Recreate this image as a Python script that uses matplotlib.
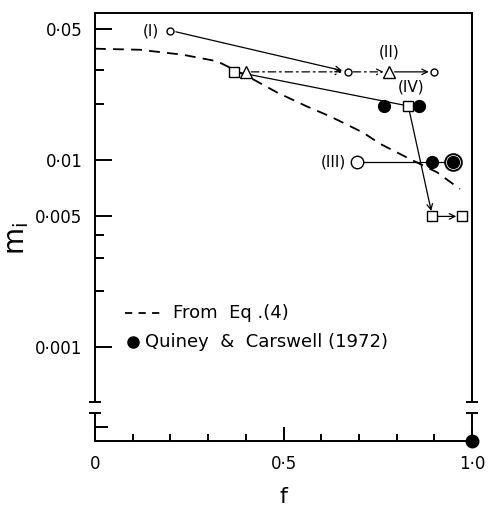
import matplotlib.pyplot as plt
from matplotlib.lines import Line2D

# dashed curve "From Eq.(4)"
f_eq = [0.0, 0.119, 0.233, 0.324, 0.366, 0.411, 0.483, 0.562, 0.623, 0.658,
        0.711, 0.756, 0.836, 0.907, 0.968]
m_eq = [0.0392, 0.0387, 0.0364, 0.0336, 0.0305, 0.0275, 0.0229, 0.0193, 0.0171,
        0.0158, 0.0140, 0.0122, 0.0101, 0.0086, 0.0070]

# run (I): open circles
f_run1 = [0.20, 0.67]
m_run1 = [0.049, 0.0295]

# run (II): triangle -> circle -> triangle -> circle
f_run2 = [0.40, 0.67, 0.78, 0.90]
m_run2 = [0.0295, 0.0295, 0.0295, 0.0295]

# run (III): open circle -> filled -> ringed
f_run3 = [0.694, 0.893, 0.950]
m_run3 = [0.0098, 0.0098, 0.0098]

# run (IV): squares
f_run4 = [0.37, 0.831, 0.895, 0.973]
m_run4 = [0.0296, 0.0194, 0.0050, 0.0050]

# Quiney & Carswell (1972)
f_qc = [0.767, 0.860, 0.893, 0.950]
m_qc = [0.0194, 0.0194, 0.0098, 0.0098]
f_qc_zero = [1.0]
m_qc_zero = [0.0]

y_major = [0.05, 0.01, 0.005, 0.001]
y_major_labels = ['0·05', '0·01', '0·005', '0·001']
y_minor = [0.03, 0.02, 0.004, 0.003, 0.002]
x_major = [0.0, 0.5, 1.0]
x_major_labels = ['0', '0·5', '1·0']
x_minor = [0.1, 0.2, 0.3, 0.4, 0.6, 0.7, 0.8, 0.9]

W, H = 488, 516
left, right = 95 / W, 472 / W
top_ax = [left, 1 - 402 / H, right - left, (402 - 12.7) / H]
bot_ax = [left, 1 - 441 / H, right - left, (441 - 413) / H]

fig = plt.figure(figsize=(W / 100, H / 100), dpi=100)
ax = fig.add_axes(top_ax)
axb = fig.add_axes(bot_ax, sharex=ax)

lw_spine = 1.4
for a in (ax, axb):
    for s in a.spines.values():
        s.set_linewidth(lw_spine)
ax.spines['bottom'].set_visible(False)
axb.spines['top'].set_visible(False)

ax.set_yscale('log')
ax.set_ylim(0.000512, 0.061)
ax.set_xlim(0, 1.0)
axb.set_ylim(0, 1)

ax.set_yticks(y_major)
ax.set_yticklabels(y_major_labels)
ax.set_yticks(y_minor, minor=True)
ax.yaxis.set_minor_formatter(plt.NullFormatter())
ax.tick_params(axis='y', which='major', direction='in', length=12, width=1.4,
               labelsize=12, pad=9, right=False)
ax.tick_params(axis='y', which='minor', direction='in', length=6.5, width=1.4, right=False)
ax.tick_params(axis='x', which='both', bottom=False, top=False, labelbottom=False)

axb.set_xticks(x_major)
axb.set_xticklabels(x_major_labels)
axb.set_xticks(x_minor, minor=True)
axb.tick_params(axis='x', which='major', direction='in', length=10, width=1.4,
                labelsize=12, pad=10, top=False)
axb.tick_params(axis='x', which='minor', direction='in', length=5, width=1.4, top=False)
axb.set_yticks([0.5])
axb.set_yticklabels([])
axb.tick_params(axis='y', direction='in', length=9, width=1.4, right=False)

# axis break marks
ax.plot([0, 1], [0, 0], transform=ax.transAxes, ls='none', marker='_',
        ms=9, mew=1.4, color='k', clip_on=False)
axb.plot([0, 1], [1, 1], transform=axb.transAxes, ls='none', marker='_',
         ms=8, mew=1.4, color='k', clip_on=False)

# Eq.(4) curve
ax.plot(f_eq, m_eq, color='k', lw=1.3, dashes=(6, 4))

arrow = dict(arrowstyle='->', color='k', lw=0.9, shrinkA=4, shrinkB=4,
             mutation_scale=10)


def connect(a, p0, p1, style='-', head=True):
    props = dict(arrow)
    props['linestyle'] = style
    if not head:
        props['arrowstyle'] = '-'
    a.annotate('', xy=p1, xytext=p0, arrowprops=props)


# run (I)
connect(ax, (f_run1[0], m_run1[0]), (f_run1[1], m_run1[1]))
ax.plot(f_run1, m_run1, 'o', ms=5, mfc='white', mec='k', mew=1.0, zorder=4)

# run (II)
connect(ax, (f_run2[0], m_run2[0]), (f_run2[1], m_run2[1]), style=(0, (6, 3, 1.5, 3)))
connect(ax, (f_run2[1], m_run2[1]), (f_run2[2], m_run2[2]), style=(0, (6, 3, 1.5, 3)))
connect(ax, (f_run2[2], m_run2[2]), (f_run2[3], m_run2[3]))
ax.plot([f_run2[0], f_run2[2]], [m_run2[0], m_run2[2]], '^', ms=9,
        mfc='white', mec='k', mew=1.0, zorder=5)
ax.plot(f_run2[3:], m_run2[3:], 'o', ms=5, mfc='white', mec='k', mew=1.0, zorder=4)

# run (IV)
connect(ax, (f_run4[0], m_run4[0]), (f_run4[1], m_run4[1]), head=False)
connect(ax, (f_run4[1], m_run4[1]), (f_run4[2], m_run4[2]))
connect(ax, (f_run4[2], m_run4[2]), (f_run4[3], m_run4[3]))
ax.plot(f_run4, m_run4, 's', ms=7, mfc='white', mec='k', mew=1.0, zorder=4)

# run (III)
ax.plot(f_run3, m_run3, '-', color='k', lw=0.9)
ax.plot(f_run3[0], m_run3[0], 'o', ms=9, mfc='white', mec='k', mew=1.0, zorder=4)
ax.plot(f_run3[2], m_run3[2], 'o', ms=12, mfc='white', mec='k', mew=1.4, zorder=4)

# Quiney & Carswell points
ax.plot(f_qc, m_qc, 'o', ms=8.5, color='k', zorder=6)
axb.plot(f_qc_zero, m_qc_zero, 'o', ms=9, color='k', clip_on=False, zorder=6)

# run labels
lab = dict(fontsize=11, textcoords='offset points')
ax.annotate('(I)', (f_run1[0], m_run1[0]), xytext=(-8, 0), ha='right', va='center', **lab)
ax.annotate('(II)', (f_run2[2], m_run2[2]), xytext=(0, 9), ha='center', va='bottom', **lab)
ax.annotate('(III)', (f_run3[0], m_run3[0]), xytext=(-8, 0), ha='right', va='center', **lab)
ax.annotate('(IV)', (f_run4[1], m_run4[1]), xytext=(2, 8), ha='center', va='bottom', **lab)

# key
ax.add_line(Line2D([0.080, 0.180], [0.229, 0.229], transform=ax.transAxes,
                   color='k', lw=1.3, dashes=(4, 3.5)))
ax.text(0.207, 0.229, 'From  Eq .(4)', transform=ax.transAxes, fontsize=13,
        va='center', ha='left')
ax.plot([0.101], [0.154], 'o', ms=8, color='k', transform=ax.transAxes)
ax.text(0.133, 0.154, 'Quiney  &  Carswell (1972)', transform=ax.transAxes,
        fontsize=13, va='center', ha='left')

ax.set_ylabel('m$_\\mathregular{i}$', fontsize=20)
ax.yaxis.set_label_coords(-0.17, 0.421)
axb.set_xlabel('f', fontsize=16, labelpad=10)

fig.savefig('out.png', dpi=100)
